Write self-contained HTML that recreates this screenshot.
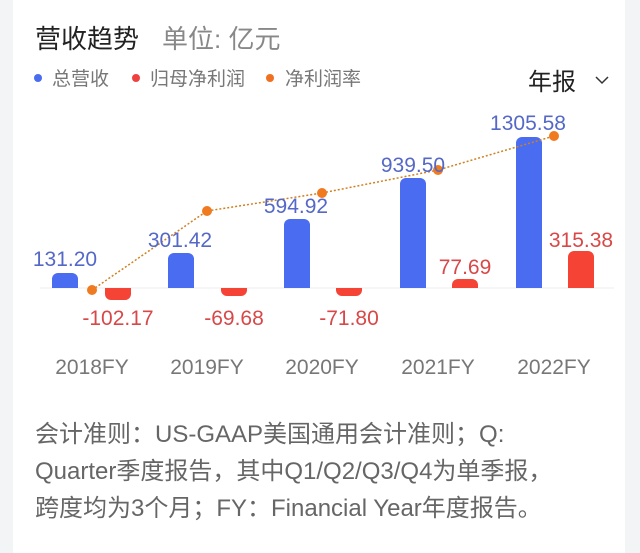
<!DOCTYPE html>
<html><head><meta charset="utf-8"><style>
html,body{margin:0;padding:0;background:#f3f4f6;}
body{width:640px;height:553px;overflow:hidden;position:relative;font-family:"Liberation Sans","Noto Sans CJK SC",sans-serif;}
.card{position:absolute;left:13px;top:0;width:612px;height:553px;background:#fff;}
</style></head><body>
<div class="card"></div>
<svg width="640" height="553" style="position:absolute;left:0;top:0" font-family="Liberation Sans, Noto Sans CJK SC, sans-serif">
<text x="35" y="48" font-size="26" fill="#222">营收趋势</text>
<text x="162" y="48" font-size="26" fill="#888">单位: 亿元</text>
<circle cx="38" cy="78" r="4" fill="#4a6cf0"/><text x="52" y="85" font-size="19" fill="#777">总营收</text>
<circle cx="136" cy="78" r="4" fill="#f04040"/><text x="150" y="85" font-size="19" fill="#777">归母净利润</text>
<circle cx="270" cy="78" r="4" fill="#f07020"/><text x="285" y="85" font-size="19" fill="#777">净利润率</text>
<text x="528" y="90" font-size="24" fill="#222">年报</text>
<path d="M596 77 L602 83 L608 77" fill="none" stroke="#333" stroke-width="1.5"/>
<line x1="40" y1="288" x2="614" y2="288" stroke="#eee" stroke-width="1"/>
<g fill="#4a6cf0">
<path d="M52 288V279a6 6 0 0 1 6-6h14a6 6 0 0 1 6 6V288z"/>
<path d="M168 288V259a6 6 0 0 1 6-6h14a6 6 0 0 1 6 6V288z"/>
<path d="M284 288V225a6 6 0 0 1 6-6h14a6 6 0 0 1 6 6V288z"/>
<path d="M400 288V184a6 6 0 0 1 6-6h14a6 6 0 0 1 6 6V288z"/>
<path d="M516 288V143a6 6 0 0 1 6-6h14a6 6 0 0 1 6 6V288z"/>
</g>
<g fill="#f54336">
<path d="M105 288V294a6 6 0 0 0 6 6h14a6 6 0 0 0 6-6V288z"/>
<path d="M221 288V290a6 6 0 0 0 6 6h14a6 6 0 0 0 6-6V288z"/>
<path d="M336 288V290a6 6 0 0 0 6 6h14a6 6 0 0 0 6-6V288z"/>
<path d="M452 288V285a6 6 0 0 1 6-6h14a6 6 0 0 1 6 6V288z"/>
<path d="M568 288V257a6 6 0 0 1 6-6h14a6 6 0 0 1 6 6V288z"/>
</g>
<polyline points="92,290 207,211 322,193 438,170 554,136" fill="none" stroke="#d08020" stroke-width="1.5" stroke-dasharray="2,2"/>
<g fill="#f07a20"><circle cx="92" cy="290" r="5"/><circle cx="207" cy="211" r="5"/><circle cx="322" cy="193" r="5"/><circle cx="438" cy="170" r="5"/><circle cx="554" cy="136" r="5"/></g>
<g font-size="21" fill="#5568c8" text-anchor="middle">
<text x="65" y="266">131.20</text><text x="180" y="247">301.42</text><text x="296" y="213">594.92</text><text x="413" y="172">939.50</text><text x="528" y="130">1305.58</text>
</g>
<g font-size="21" fill="#d84848" text-anchor="middle">
<text x="118" y="325">-102.17</text><text x="234" y="325">-69.68</text><text x="349" y="325">-71.80</text><text x="465" y="274">77.69</text><text x="581" y="247">315.38</text>
</g>
<g font-size="21" fill="#777" text-anchor="middle">
<text x="92" y="374">2018FY</text><text x="207" y="374">2019FY</text><text x="322" y="374">2020FY</text><text x="438" y="374">2021FY</text><text x="554" y="374">2022FY</text>
</g>
<g font-size="24" fill="#666">
<text x="35" y="442">会计准则：US-GAAP美国通用会计准则；Q:</text>
<text x="35" y="479">Quarter季度报告，其中Q1/Q2/Q3/Q4为单季报，</text>
<text x="35" y="516">跨度均为3个月；FY：Financial Year年度报告。</text>
</g>
</svg>
</body></html>
